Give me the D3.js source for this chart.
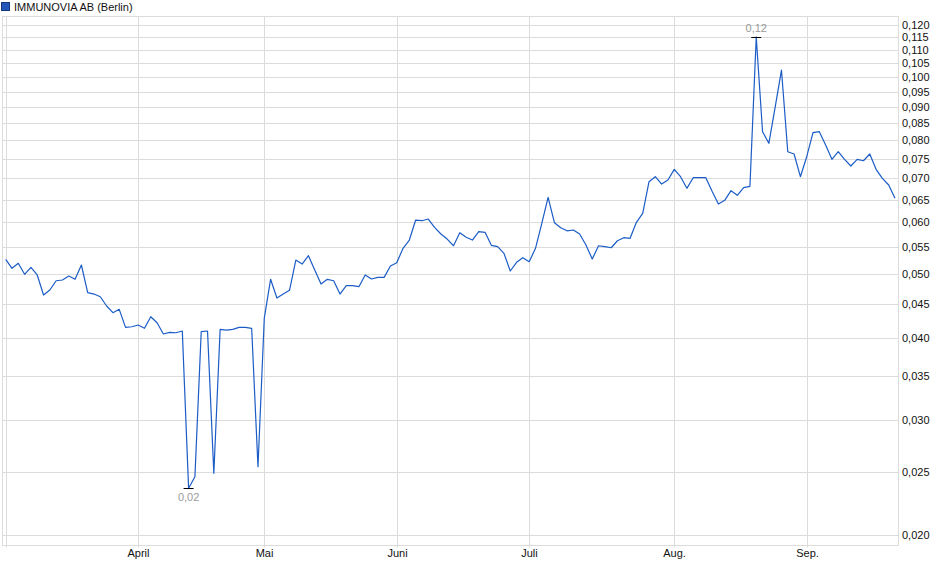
<!DOCTYPE html>
<html>
<head>
<meta charset="utf-8">
<script src="https://cdn.jsdelivr.net/npm/d3@7"></script>
<style>
  body { margin: 0; background: #fff; }
  svg text { font-family: "Liberation Sans", Arial, sans-serif; }
</style>
</head>
<body>
<svg id="chart"></svg>
<script>
// daily closing prices (EUR), one per trading day
const prices = [
  0.05269, 0.05105, 0.05196, 0.04999, 0.05123, 0.04987, 0.04648, 0.04731, 0.04887, 0.04900,
  0.04969, 0.04912, 0.05165, 0.04686, 0.04664, 0.04620, 0.04472, 0.04368, 0.04420, 0.04149,
  0.04158, 0.04183, 0.04135, 0.04307, 0.04217, 0.04053, 0.04077, 0.04071, 0.04096, 0.02357,
  0.02455, 0.04086, 0.04096, 0.02484, 0.04120, 0.04110, 0.04120, 0.04149, 0.04149, 0.04135,
  0.02542, 0.04287, 0.04912, 0.04599, 0.04664, 0.04725, 0.05256, 0.05183, 0.05336, 0.05075,
  0.04831, 0.04912, 0.04887, 0.04664, 0.04803, 0.04803, 0.04786, 0.04987, 0.04917, 0.04946,
  0.04946, 0.05147, 0.05207, 0.05477, 0.05639, 0.06049, 0.06035, 0.06071, 0.05896, 0.05759,
  0.05658, 0.05527, 0.05785, 0.05693, 0.05639, 0.05806, 0.05794, 0.05535, 0.05508, 0.05381,
  0.05057, 0.05214, 0.05299, 0.05225, 0.05477, 0.05980, 0.06552, 0.05993, 0.05888, 0.05824,
  0.05841, 0.05759, 0.05541, 0.05275, 0.05527, 0.05508, 0.05488, 0.05625, 0.05685, 0.05673,
  0.06001, 0.06194, 0.06921, 0.07044, 0.06865, 0.06963, 0.07229, 0.07044, 0.06762, 0.07019,
  0.07019, 0.07019, 0.06692, 0.06399, 0.06483, 0.06706, 0.06598, 0.06781, 0.06810, 0.11510,
  0.08251, 0.07921, 0.08998, 0.10247, 0.07691, 0.07629, 0.07044, 0.07557, 0.08222, 0.08251,
  0.07874, 0.07488, 0.07691, 0.07488, 0.07314, 0.07488, 0.07451, 0.07629, 0.07229, 0.07004,
  0.06841, 0.06529
];

// trading-day index where each month begins
const monthStarts = [0, 21, 41, 62, 83, 106, 127];
const monthLabels = ["", "April", "Mai", "Juni", "Juli", "Aug.", "Sep."];

const yTicks = [
  0.020, 0.025, 0.030, 0.035, 0.040, 0.045, 0.050, 0.055, 0.060, 0.065,
  0.070, 0.075, 0.080, 0.085, 0.090, 0.095, 0.100, 0.105, 0.110, 0.115, 0.120
];

const title = "IMMUNOVIA AB (Berlin)";

const W = 940, H = 579;
const plot = { left: 2.5, right: 898.5, top: 16.5, bottom: 545.5 };

const svg = d3.select("#chart").attr("width", W).attr("height", H);

let x = d3.scaleLinear().domain([0, prices.length - 1]).range([5.7, 895]);
let y = d3.scaleLog().domain([0.01931, 0.1239]).range([545, 16]);

let crisp = v => Math.round(v) + 0.5;
let fmt = (v, d) => d3.format("." + d + "f")(v).replace(".", ",");

// legend / title
svg.append("rect")
  .attr("x", 1.5).attr("y", 2.5).attr("width", 8).attr("height", 8)
  .attr("fill", "#2156b8").attr("stroke", "#12377a");
svg.append("text")
  .attr("x", 14).attr("y", 10.5)
  .style("font-size", "11px").style("fill", "#111")
  .text(title);

let grid = svg.append("g").attr("stroke", "#dcdcdc").attr("stroke-width", 1);

// horizontal gridlines + right labels
yTicks.forEach(function(t) {
  let yy = crisp(y(t));
  grid.append("line")
    .attr("x1", plot.left).attr("x2", plot.right)
    .attr("y1", yy).attr("y2", yy);
  svg.append("text")
    .attr("x", 902).attr("y", yy)
    .attr("dy", "0.35em")
    .style("font-size", "11px").style("fill", "#111")
    .text(fmt(t, 3));
});

// vertical month gridlines + labels
monthStarts.forEach(function(m, i) {
  let xx = crisp(x(m));
  grid.append("line")
    .attr("x1", xx).attr("x2", xx)
    .attr("y1", plot.top).attr("y2", plot.bottom + 2);
  svg.append("text")
    .attr("x", xx).attr("y", 557)
    .attr("text-anchor", "middle")
    .style("font-size", "11px").style("fill", "#111")
    .text(monthLabels[i]);
});

// frame
grid.append("rect")
  .attr("x", plot.left).attr("y", plot.top)
  .attr("width", plot.right - plot.left)
  .attr("height", plot.bottom - plot.top)
  .attr("fill", "none");

// price line
let line = d3.line()
  .x((d, i) => x(i))
  .y(d => y(d));

svg.append("path")
  .datum(prices)
  .attr("fill", "none")
  .attr("stroke", "#1b5cc6")
  .attr("stroke-width", 1.2)
  .attr("stroke-linejoin", "round")
  .attr("d", line);

// high / low markers
let iMax = d3.maxIndex(prices);
let iMin = d3.minIndex(prices);

[[iMax, -1], [iMin, 1]].forEach(function(pair) {
  let i = pair[0], dir = pair[1];
  let px = x(i), py = crisp(y(prices[i]));
  svg.append("line")
    .attr("x1", px - 5).attr("x2", px + 5)
    .attr("y1", py).attr("y2", py)
    .attr("stroke", "#000").attr("stroke-width", 1);
  svg.append("text")
    .attr("x", px).attr("y", py + dir * 9)
    .attr("dy", "0.35em")
    .attr("text-anchor", "middle")
    .style("font-size", "11px").style("fill", "#9a9a9a")
    .text(fmt(prices[i], 2));
});
</script>
</body>
</html>
